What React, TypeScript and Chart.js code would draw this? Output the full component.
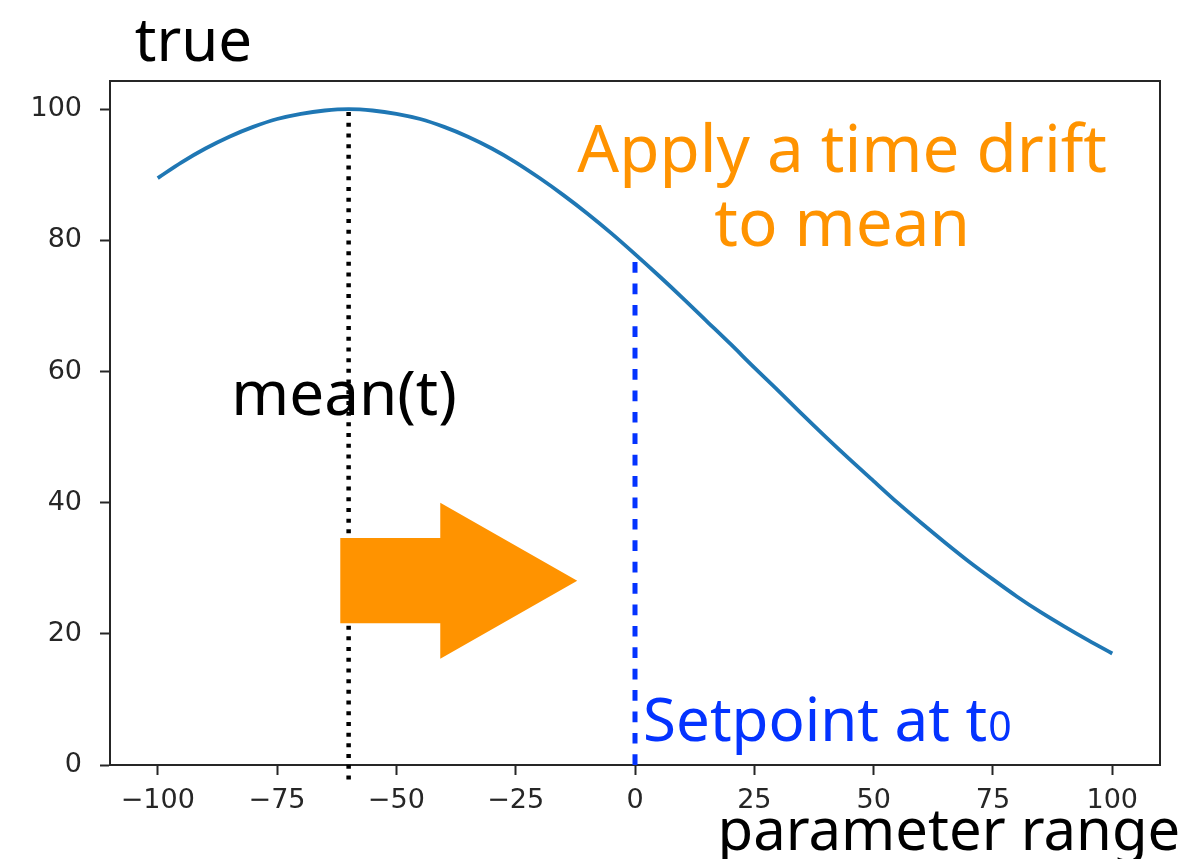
import React, { useEffect, useRef } from "react";
import { Chart, registerables } from "chart.js";

Chart.register(...registerables);

// ---- data ----
const xValues = [
  -100, -95, -90, -85, -80, -75, -70, -65, -60, -55, -50, -45, -40, -35, -30, -25, -20, -15, -10, -5,
  0, 5, 10, 15, 20, 25, 30, 35, 40, 45, 50, 55, 60, 65, 70, 75, 80, 85, 90, 95, 100,
];
const trueValues = [
  89.5, 91.9, 94.0, 95.8, 97.3, 98.5, 99.3, 99.8, 100.0, 99.8, 99.3, 98.5, 97.3, 95.8, 94.0, 91.9, 89.5, 86.9, 84.1, 81.1,
  77.9, 74.6, 71.2, 67.7, 64.2, 60.6, 57.1, 53.5, 50.0, 46.6, 43.3, 40.0, 36.9, 33.9, 31.0, 28.3, 25.7, 23.3, 21.1, 19.0, 17.0,
];
const xTicks = [-100, -75, -50, -25, 0, 25, 50, 75, 100];
const yTicks = [0, 20, 40, 60, 80, 100];

const meanX = [-60, -60];
const meanY = [-2.2, 100.6];
const setpointX = [0, 0];
const setpointY = [0, 77.4];

const arrowX = [-61.75, -40.8, -40.8, -12.1, -40.8, -40.8, -61.75, -61.75];
const arrowY = [34.6, 34.6, 40.0, 28.1, 16.2, 21.6, 21.6, 34.6];

const labelTexts = ["true", "parameter range", "mean(t)", "Apply a time drift", "to mean", "Setpoint at t", "0"];
const labelX = [-104.8, 17.3, -84.6, 43.4, 43.4, 1.7, 0];
const labelY = [107.3, -13.0, 53.4, 90.5, 79.1, 3.7, 3.7];

const ORANGE = "#FF9300";
const BLUE = "#0433FF";
const AXIS = "#262626";
const ANNOT_FONT = '"Noto Sans", "Open Sans", sans-serif';

const annotationPlugin = {
  id: "annotations",
  afterDraw(chart: any) {
    const { ctx, chartArea, scales } = chart;
    const xs = scales.x;
    const ys = scales.y;
    ctx.save();
    // frame (top & right spines)
    ctx.strokeStyle = AXIS;
    ctx.lineWidth = 2;
    ctx.beginPath();
    ctx.moveTo(chartArea.left, chartArea.top);
    ctx.lineTo(chartArea.right, chartArea.top);
    ctx.lineTo(chartArea.right, chartArea.bottom);
    ctx.stroke();

    const px = (i: number) => xs.getPixelForValue(labelX[i]);
    const py = (i: number) => ys.getPixelForValue(labelY[i]);
    ctx.textBaseline = "alphabetic";

    // true
    ctx.fillStyle = "#000";
    ctx.font = `60px ${ANNOT_FONT}`;
    ctx.textAlign = "left";
    ctx.fillText(labelTexts[0], px(0), py(0));
    // parameter range
    ctx.font = `58px ${ANNOT_FONT}`;
    ctx.fillText(labelTexts[1], px(1), py(1));
    // mean(t)
    ctx.font = `62px ${ANNOT_FONT}`;
    ctx.fillText(labelTexts[2], px(2), py(2));
    // orange text
    ctx.fillStyle = ORANGE;
    ctx.font = `65.5px ${ANNOT_FONT}`;
    ctx.textAlign = "center";
    ctx.fillText(labelTexts[3], px(3), py(3));
    ctx.fillText(labelTexts[4], px(4), py(4));
    // setpoint
    ctx.fillStyle = BLUE;
    ctx.textAlign = "left";
    ctx.font = `60px ${ANNOT_FONT}`;
    const sx = px(5);
    ctx.fillText(labelTexts[5], sx, py(5));
    const w = ctx.measureText(labelTexts[5]).width;
    ctx.font = `41px ${ANNOT_FONT}`;
    ctx.fillText(labelTexts[6], sx + w + 1, py(6));
    ctx.restore();
  },
};

export default function App() {
  const canvasRef = useRef<HTMLCanvasElement | null>(null);

  useEffect(() => {
    if (!canvasRef.current) return;
    const chart = new Chart(canvasRef.current, {
      type: "line",
      data: {
        datasets: [
          {
            label: "arrow",
            data: arrowX.map((x, i) => ({ x, y: arrowY[i] })),
            borderWidth: 0,
            borderColor: ORANGE,
            backgroundColor: ORANGE,
            fill: "shape",
            pointRadius: 0,
            tension: 0,
          } as any,
          {
            label: "true",
            data: xValues.map((x, i) => ({ x, y: trueValues[i] })),
            borderColor: "#1f77b4",
            borderWidth: 3.8,
            pointRadius: 0,
            cubicInterpolationMode: "monotone",
            fill: false,
          },
          {
            label: "setpoint",
            data: setpointX.map((x, i) => ({ x, y: setpointY[i] })),
            borderColor: BLUE,
            borderWidth: 5,
            borderDash: [10.7, 10.7],
            borderCapStyle: "butt",
            pointRadius: 0,
            fill: false,
            clip: false,
          } as any,
          {
            label: "mean",
            data: meanX.map((x, i) => ({ x, y: meanY[i] })),
            borderColor: "#000",
            borderWidth: 4.5,
            borderDash: [4, 6.7],
            borderCapStyle: "butt",
            pointRadius: 0,
            fill: false,
            clip: false,
          } as any,
        ],
      },
      options: {
        animation: false,
        responsive: false,
        events: [],
        layout: { padding: { left: 0, top: 81, right: 20, bottom: 0 } },
        plugins: { legend: { display: false }, tooltip: { enabled: false } },
        scales: {
          x: {
            type: "linear",
            min: -110,
            max: 110,
            afterBuildTicks: (s: any) => {
              s.ticks = xTicks.map((v) => ({ value: v }));
            },
            afterFit: (s: any) => {
              s.height = 94;
            },
            grid: { drawOnChartArea: false, tickLength: 10, tickColor: AXIS, tickWidth: 2 },
            border: { display: true, color: AXIS, width: 2 },
            ticks: {
              color: AXIS,
              padding: 10,
              font: { family: '"DejaVu Sans", sans-serif', size: 27 },
              callback: (v: any) => (Number(v) < 0 ? "\u2212" + Math.abs(Number(v)) : String(v)),
            },
          },
          y: {
            type: "linear",
            min: 0,
            max: 104.3,
            afterBuildTicks: (s: any) => {
              s.ticks = yTicks.map((v) => ({ value: v }));
            },
            afterFit: (s: any) => {
              s.width = 110;
            },
            grid: { drawOnChartArea: false, tickLength: 10, tickColor: AXIS, tickWidth: 2 },
            border: { display: true, color: AXIS, width: 2 },
            ticks: {
              color: AXIS,
              padding: 18,
              font: { family: '"DejaVu Sans", sans-serif', size: 27 },
            },
          },
        },
      },
      plugins: [annotationPlugin],
    });
    return () => chart.destroy();
  }, []);

  return (
    <div style={{ position: "fixed", left: 0, top: 0, width: 1180, height: 859, background: "#fff" }}>
      <canvas ref={canvasRef} width={1180} height={859} style={{ width: 1180, height: 859, display: "block" }} />
    </div>
  );
}
